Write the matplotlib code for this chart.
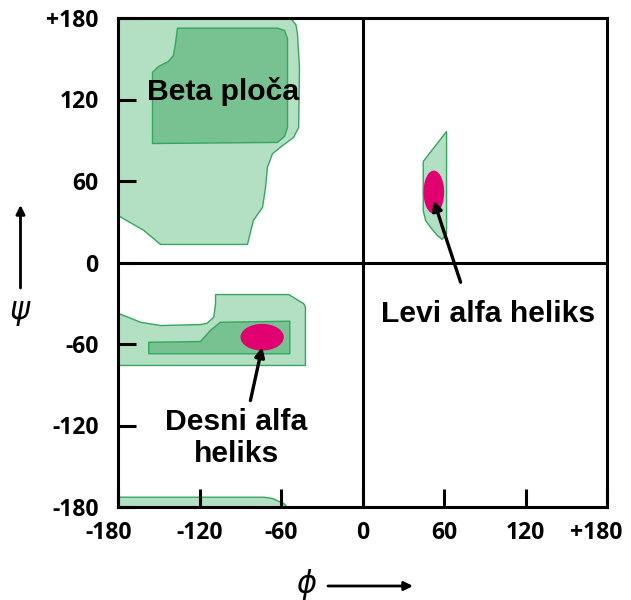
import matplotlib
matplotlib.use("Agg")
import matplotlib.pyplot as plt
from matplotlib.patches import Polygon, Ellipse, FancyArrowPatch
from matplotlib.transforms import ScaledTranslation

# region outlines (phi, psi in degrees)
beta_outer_phi = [-180, -53, -49, -47.9, -46.4, -47, -50.8, -58.9, -66.3, -70, -71.4, -73.6, -80.3, -84.7, -148.7, -161, -180]
beta_outer_psi = [180, 180, 175, 168.6, 143.6, 99.4, 92, 86, 80, 70, 55, 40.5, 31, 13.3, 13.3, 23.6, 34.6]

beta_inner_phi = [-136.2, -62.6, -57.4, -55.2, -55.2, -57.4, -62.6, -154.6, -154.6, -150.2, -142.9, -139.2, -137.7]
beta_inner_psi = [172.5, 172.5, 170.8, 164.9, 99.4, 92.8, 88.4, 87.6, 140, 144.3, 148, 152.4, 161.3]

alphaR_outer_phi = [-180, -172, -163.5, -148.7, -119.3, -114.4, -109.5, -108.2, -108.2, -54.3, -43.2, -42, -42, -180]
alphaR_outer_psi = [-37.3, -40.5, -44, -46.4, -45.7, -44.7, -40.2, -30.4, -23.6, -23.6, -30.4, -32.9, -75.8, -75.8]

alphaR_inner_phi = [-157.4, -119.3, -112, -104.6, -53.5, -53.5, -157.4]
alphaR_inner_psi = [-58.7, -58.2, -50, -44, -43.2, -67.2, -67.2]

alphaL_outer_phi = [61.9, 44.7, 44.7, 46.4, 50, 55, 58.7, 61.9]
alphaL_outer_psi = [96.5, 74.4, 38.3, 31, 26, 20, 17, 21.4]

bottom_phi = [-180, -72.7, -66, -62.8, -58, -55.4, -180]
bottom_psi = [-172.8, -172.8, -173.8, -175.3, -177.5, -180, -180]

# helix centres (phi, psi, width, height)
alphaR_core = (-73.9, -55, 31.9, 19.6)
alphaL_core = (52.5, 51.8, 15.2, 31.7)

ticks = [-180, -120, -60, 0, 60, 120, 180]
tick_labels = ["-180", "-120", "-60", "0", "60", "120", "+180"]

light = "#b3dfc3"
dark = "#78c190"
edge = "#35a660"
pink = "#e0006f"

fig = plt.figure(figsize=(6.31, 6.0), dpi=100)
ax = fig.add_axes([118 / 631, 93 / 600, 489 / 631, 489 / 600])
ax.set_xlim(-180, 180)
ax.set_ylim(-180, 180)

def region(phi, psi, fc, z):
    ax.add_patch(Polygon(list(zip(phi, psi)), closed=True, facecolor=fc,
                         edgecolor=edge, lw=1.0, zorder=z))

region(beta_outer_phi, beta_outer_psi, light, 1)
region(alphaR_outer_phi, alphaR_outer_psi, light, 1)
region(alphaL_outer_phi, alphaL_outer_psi, light, 1)
region(bottom_phi, bottom_psi, light, 1)
region(beta_inner_phi, beta_inner_psi, dark, 2)
region(alphaR_inner_phi, alphaR_inner_psi, dark, 2)

for c in [alphaR_core, alphaL_core]:
    ax.add_patch(Ellipse((c[0], c[1]), c[2], c[3], facecolor=pink, edgecolor="none", zorder=3))

ax.axhline(0, color="black", lw=2.2, zorder=4)
ax.axvline(0, color="black", lw=2.2, zorder=4)
for s in ax.spines.values():
    s.set_linewidth(2.2)
    s.set_zorder(5)

ax.set_xticks(ticks)
ax.set_yticks(ticks)
ax.set_xticklabels(tick_labels)
ax.set_yticklabels(tick_labels)
ax.tick_params(direction="in", length=13, width=2.2)
ax.tick_params(axis="x", pad=10)
ax.tick_params(axis="y", pad=14)
for lab in ax.get_xticklabels() + ax.get_yticklabels():
    lab.set_fontfamily("Open Sans")
    lab.set_fontweight("bold")
    lab.set_fontsize(16.5)

# end labels on the phi axis sit a little inward in the original
xl = ax.get_xticklabels()
xl[0].set_transform(xl[0].get_transform() + ScaledTranslation(-0.09, 0, fig.dpi_scale_trans))
xl[-1].set_transform(xl[-1].get_transform() + ScaledTranslation(-0.11, 0, fig.dpi_scale_trans))

txt = dict(fontfamily="Liberation Sans", fontweight="bold", fontsize=21.7, zorder=6)
ax.text(-102.7, 119.8, "Beta ploča", ha="center", va="baseline", **txt)
ax.text(92.4, -43.9, "Levi alfa heliks", ha="center", va="baseline", **txt)
ax.text(-92.8, -129, "Desni alfa\nheliks", ha="center", va="center", **txt)

arr = dict(arrowstyle="-|>", color="black", lw=2.4, mutation_scale=14, shrinkA=0, shrinkB=0)
ax.annotate("", xy=(52.5, 45.5), xytext=(72.2, -14.5), arrowprops=arr, zorder=6)
ax.annotate("", xy=(-73.9, -62.3), xytext=(-82.5, -101.6), arrowprops=arr, zorder=6)

sym = dict(fontfamily="DejaVu Sans", fontstyle="italic", fontsize=22,
           ha="center", va="center")
fig.text(306 / 631, 1 - 584 / 600, "ϕ", **sym)
fig.text(20 / 631, 1 - 312 / 600, "ψ", **sym)
farr = dict(arrowstyle="-|>", color="black", lw=2.0, mutation_scale=13, shrinkA=0, shrinkB=0)
fig.add_artist(FancyArrowPatch((328 / 631, 1 - 586 / 600), (413 / 631, 1 - 586 / 600),
                               transform=fig.transFigure, **farr))
fig.add_artist(FancyArrowPatch((20.5 / 631, 1 - 288 / 600), (20.5 / 631, 1 - 205 / 600),
                               transform=fig.transFigure, **farr))

fig.savefig("out.png", dpi=100)
